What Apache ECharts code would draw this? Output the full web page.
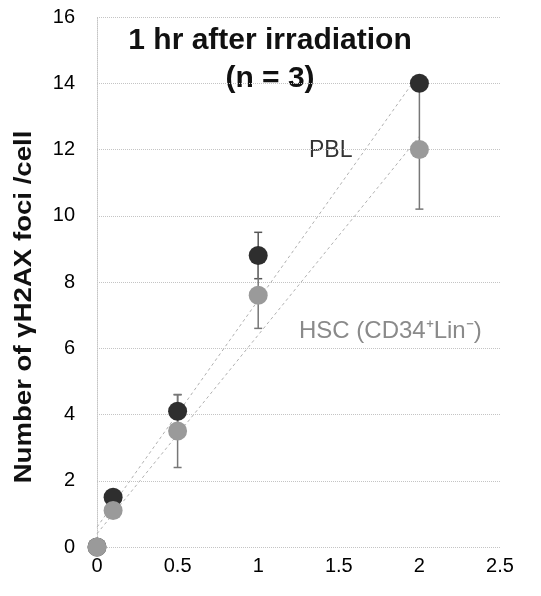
<!DOCTYPE html>
<html>
<head>
<meta charset="utf-8">
<script src="https://cdn.jsdelivr.net/npm/echarts@6/dist/echarts.min.js"></script>
<style>
  html, body { margin: 0; padding: 0; background: #fff; }
  #chart { width: 541px; height: 596px; }
</style>
</head>
<body>
<div id="chart"></div>
<script>
// dose (Gy) on x, foci per cell on y
const doses = [0, 0.1, 0.5, 1, 2];
const pblMean = [0, 1.5, 4.1, 8.8, 14.0];
const pblErr = [0, 0, 0.5, 0.7, 0.2];
const hscMean = [0, 1.1, 3.5, 7.6, 12.0];
const hscErr = [0, 0, 1.1, 1.0, 1.8];
// trend line end points
const pblTrend = [[0, 0.6], [2, 14.3]];
const hscTrend = [[0, 0.4], [2, 12.4]];
const yTicks = [0, 2, 4, 6, 8, 10, 12, 14, 16];

const DARK = '#2e2e2e';
const GREY = '#9a9a9a';
const GRID = '#c4c4c4';
const FONT = '"Liberation Sans", Arial';

const chart = echarts.init(document.getElementById('chart'));

function errorSeries(mean, err, color) {
  return {
    type: 'custom',
    z: 3,
    data: doses.map((d, i) => [d, mean[i] - err[i], mean[i] + err[i]]).filter((r) => r[2] > r[1]),
    renderItem: function (params, api) {
      const lo = api.coord([api.value(0), api.value(1)]);
      const hi = api.coord([api.value(0), api.value(2)]);
      const w = 4;
      const style = { stroke: color, lineWidth: 1.5 };
      return {
        type: 'group',
        children: [
          { type: 'line', shape: { x1: lo[0], y1: lo[1], x2: hi[0], y2: hi[1] }, style },
          { type: 'line', shape: { x1: lo[0] - w, y1: lo[1], x2: lo[0] + w, y2: lo[1] }, style },
          { type: 'line', shape: { x1: hi[0] - w, y1: hi[1], x2: hi[0] + w, y2: hi[1] }, style },
        ],
      };
    },
  };
}

chart.setOption({
  animation: false,
  grid: { left: 97, right: 41, top: 17, bottom: 49 },
  xAxis: {
    type: 'value',
    min: 0,
    max: 2.5,
    interval: 0.5,
    axisLine: { show: false },
    axisTick: { show: false },
    splitLine: { show: false },
    axisLabel: { color: '#000', fontSize: 20, fontFamily: FONT, margin: 9 },
  },
  yAxis: {
    type: 'value',
    min: yTicks[0],
    max: yTicks[yTicks.length - 1],
    interval: 2,
    axisLine: { show: true, lineStyle: { color: GRID, type: 'dotted', width: 1 } },
    axisTick: { show: false },
    axisLabel: { color: '#000', fontSize: 20, fontFamily: FONT, margin: 22 },
    splitLine: { show: true, lineStyle: { color: GRID, type: 'dotted', width: 1 } },
  },
  graphic: [
    {
      type: 'text',
      x: 270,
      y: 22,
      style: {
        text: '1 hr after irradiation\n(n = 3)',
        fill: '#111',
        font: 'bold 30px ' + FONT,
        align: 'center',
        verticalAlign: 'top',
        lineHeight: 38,
      },
    },
    {
      type: 'text',
      x: 25,
      y: 307,
      rotation: Math.PI / 2,
      scaleX: 1.2,
      style: {
        text: 'Number of \u03b3H2AX foci /cell',
        fill: '#111',
        font: 'bold 23px ' + FONT,
        align: 'center',
        verticalAlign: 'middle',
      },
    },
    {
      type: 'text',
      x: 309,
      y: 151,
      style: { text: 'PBL', fill: '#333', font: '23px ' + FONT, verticalAlign: 'middle' },
    },
    {
      type: 'text',
      x: 299,
      y: 331,
      style: { text: 'HSC (CD34\u207aLin\u207b)', fill: '#8a8a8a', font: '24px ' + FONT, verticalAlign: 'middle' },
    },
  ],
  series: [
    {
      type: 'line',
      data: pblTrend,
      symbol: 'none',
      silent: true,
      lineStyle: { color: '#b0b0b0', width: 1, type: [3, 3] },
      z: 1,
    },
    {
      type: 'line',
      data: hscTrend,
      symbol: 'none',
      silent: true,
      lineStyle: { color: '#b0b0b0', width: 1, type: [3, 3] },
      z: 1,
    },
    errorSeries(pblMean, pblErr, '#555'),
    errorSeries(hscMean, hscErr, '#777'),
    {
      name: 'PBL',
      type: 'scatter',
      data: doses.map((d, i) => [d, pblMean[i]]),
      symbolSize: 19,
      itemStyle: { color: DARK, opacity: 1 },
      z: 4,
    },
    {
      name: 'HSC',
      type: 'scatter',
      data: doses.map((d, i) => [d, hscMean[i]]),
      symbolSize: 19,
      itemStyle: { color: GREY, opacity: 1 },
      z: 5,
    },
  ],
});
</script>
</body>
</html>
